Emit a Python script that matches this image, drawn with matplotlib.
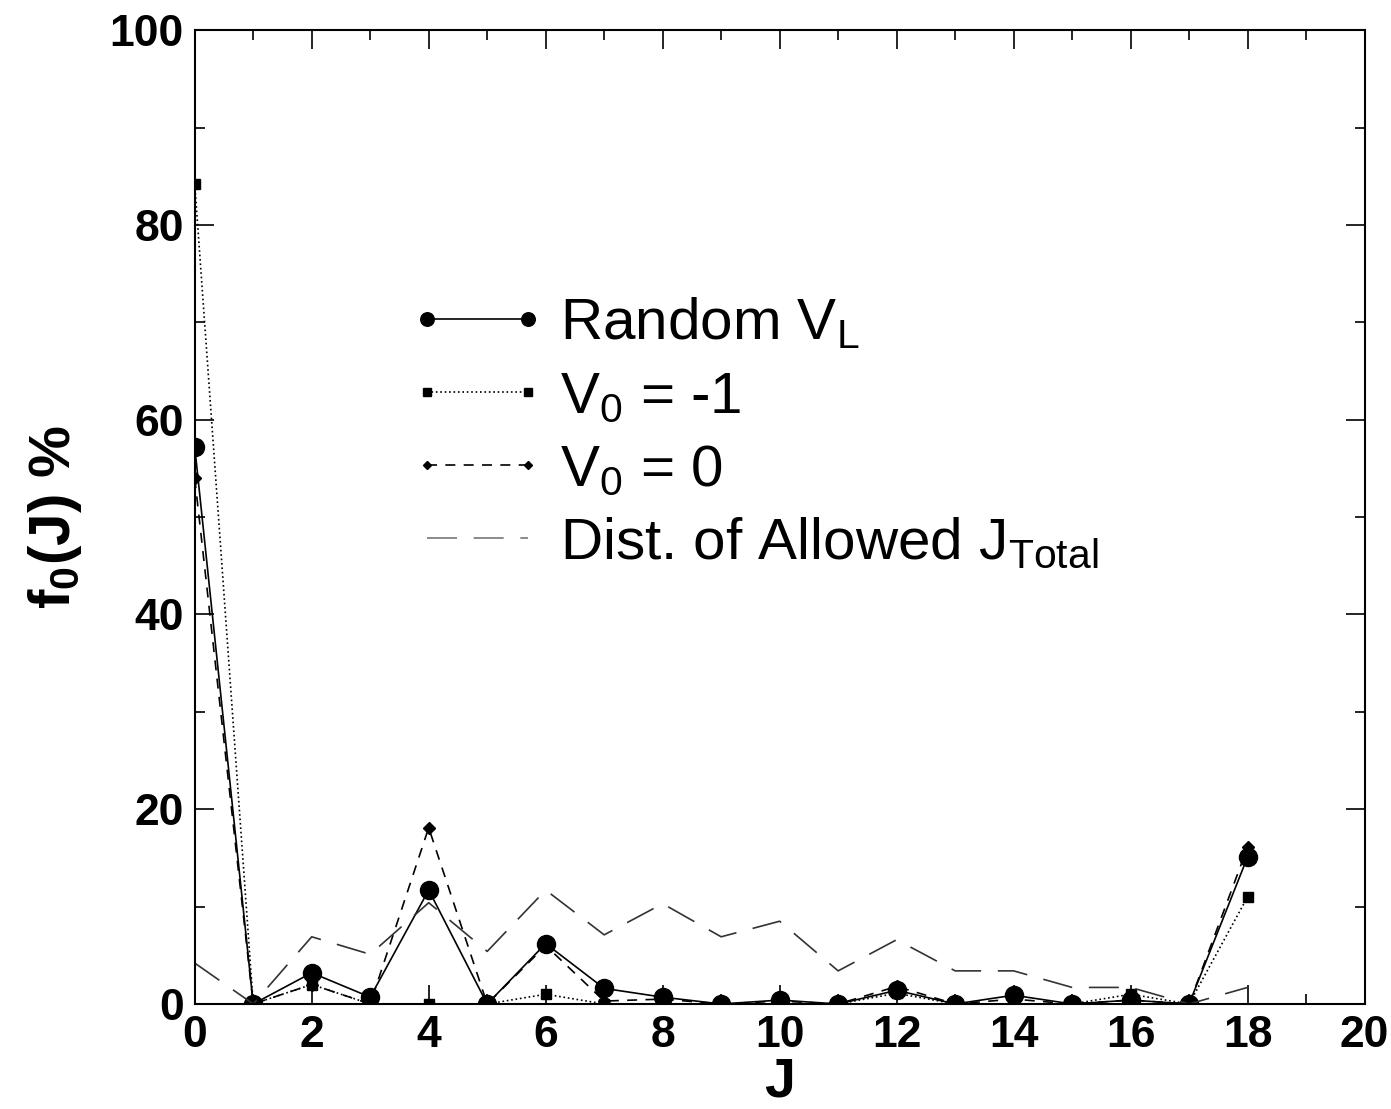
import matplotlib
matplotlib.use('Agg')
import matplotlib.pyplot as plt

plt.rcParams['font.family'] = ['Liberation Sans', 'DejaVu Sans']
plt.rcParams['mathtext.fontset'] = 'custom'
plt.rcParams['mathtext.rm'] = 'Liberation Sans'

J = list(range(19))
random_vl = [57.2, 0, 3.2, 0.7, 11.7, 0, 6.2, 1.6, 0.7, 0, 0.4, 0, 1.4, 0, 0.9, 0, 0.4, 0, 15.1]
v0_m1 = [84.2, 0, 2.0, 0, 0, 0, 1.0, 0, 0, 0, 0, 0, 1.1, 0, 0, 0, 1.0, 0, 11.0]
v0_0 = [54.0, 0, 2.0, 0, 18.1, 0, 6.0, 0.3, 0.5, 0, 0.3, 0, 1.8, 0, 0.5, 0, 0.4, 0, 16.1]
dist_allowed = [4.2, 0, 6.9, 5.1, 10.4, 5.4, 11.7, 7.1, 10.3, 6.9, 8.5, 3.4, 6.6, 3.4, 3.4, 1.7, 1.7, 0, 1.7]

fig = plt.figure(figsize=(13.91, 11.09), dpi=100)
ax = fig.add_axes([0.140, 0.0947, 0.841, 0.878])

ax.plot(J, random_vl, '-', color='black', lw=1.2, marker='o', ms=13, label=r'Random V$_\mathregular{L}$')
ax.plot(J, v0_m1, ':', color='black', lw=1.2, marker='s', ms=7, label=r'V$_\mathregular{0}$ = -1')
ax.plot(J, v0_0, '--', color='black', lw=1.2, marker='D', ms=6, dashes=(6, 5), label=r'V$_\mathregular{0}$ = 0')
ax.plot(J, dist_allowed, '--', color='#333333', lw=1.2, dashes=(18, 10),
        label=r'Dist. of Allowed J$_\mathregular{Total}$')

ax.set_xlim(0, 20)
ax.set_ylim(0, 100)
ax.set_xticks(range(0, 21, 2))
ax.set_xticks(range(0, 21), minor=True)
ax.set_yticks(range(0, 101, 20))
ax.set_yticks(range(0, 101, 10), minor=True)
ax.tick_params(which='both', direction='in', top=True, right=True, labelsize=32, width=1.2)
ax.tick_params(which='major', length=14, pad=8)
ax.tick_params(which='minor', length=7)
for lab in ax.get_xticklabels() + ax.get_yticklabels():
    lab.set_fontweight('bold')
for s in ax.spines.values():
    s.set_linewidth(1.5)

ax.set_xlabel('J', fontsize=40, fontweight='bold', labelpad=0)
ax.set_ylabel(r'f$_\mathregular{0}$(J) %', fontsize=42, fontweight='bold', labelpad=18)

leg = ax.legend(loc='upper left', bbox_to_anchor=(0.139, 0.781), frameon=False, fontsize=42,
                numpoints=2, handlelength=2.33, handletextpad=0.25, labelspacing=0.32, markerscale=0.75)
leg.get_lines()[3].set_color('#777777')

fig.savefig('out.png', dpi=100)
